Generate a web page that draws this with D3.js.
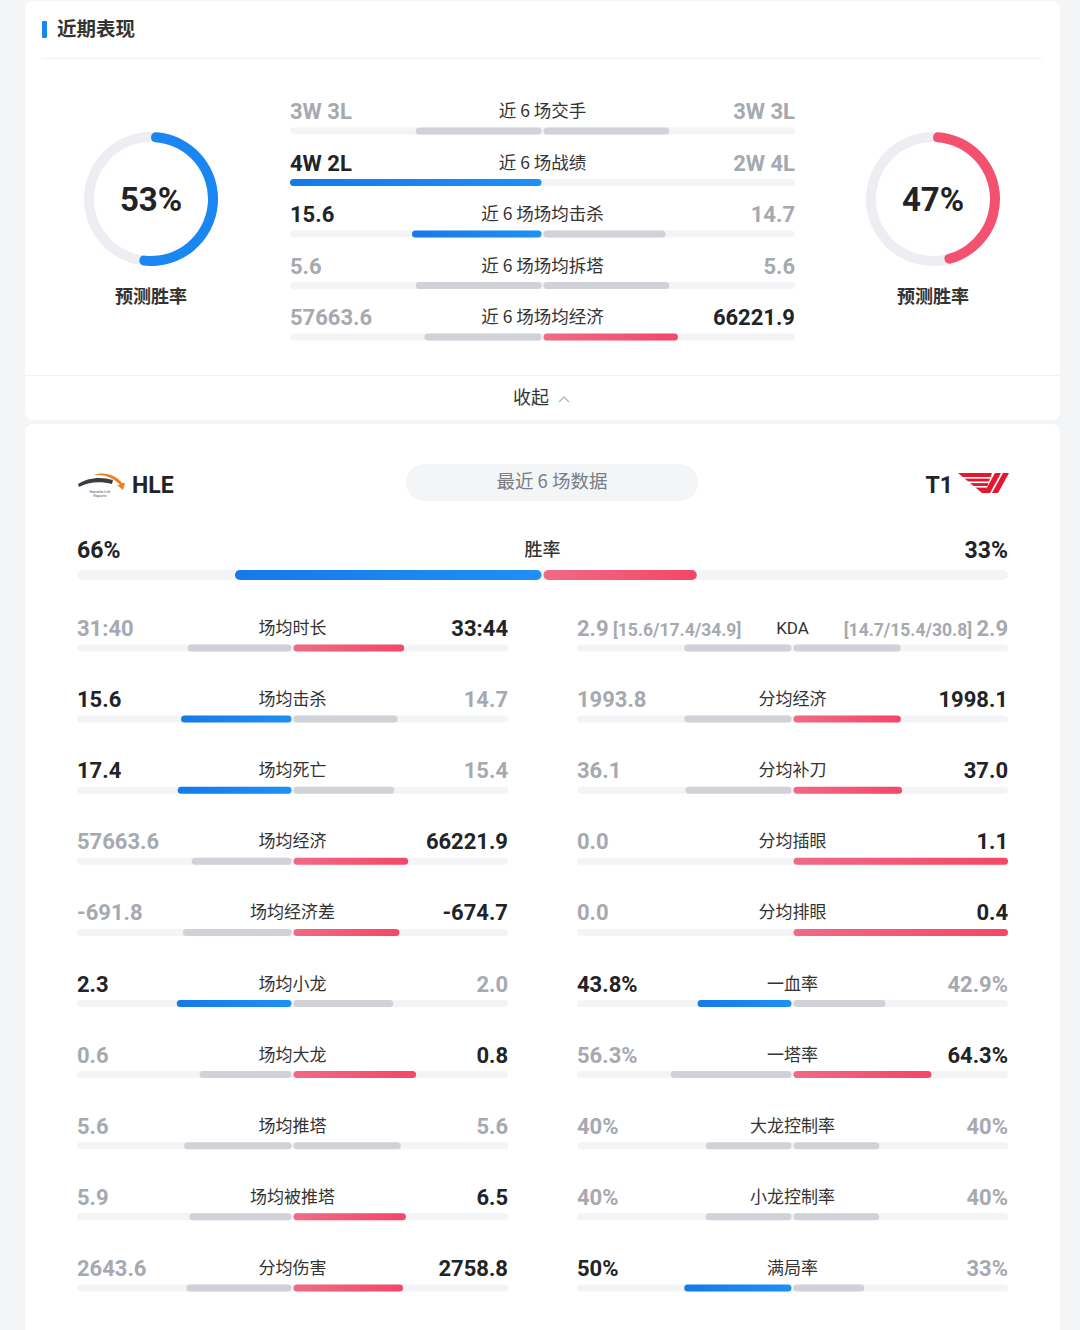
<!DOCTYPE html>
<html>

<head>
    <meta charset='utf-8'>
</head>
<style>
    body {
        margin: 0;
        background: #f4f5f7;
    }

    svg {
        display: block;
    }

    .num {
        font-family: Roboto, "Liberation Sans", sans-serif;
        font-weight: 700;
    }

    .cjk {
        font-family: "Noto Sans CJK SC", "Noto Sans", sans-serif;
    }
</style>

<body>
    <div id='chart'></div>
    <script src="https://cdn.jsdelivr.net/npm/d3@7/dist/d3.min.js"></script>
    <script>
        // predicted win rate
        var teams = ["HLE", "T1"];
        var predicted = [53, 47];

        // recent form (top block)
        var recentLabels = ["近 6 场交手", "近 6 场战绩", "近 6 场场均击杀", "近 6 场场均拆塔", "近 6 场场均经济"];
        var recentLeft = ["3W 3L", "4W 2L", "15.6", "5.6", "57663.6"];
        var recentRight = ["3W 3L", "2W 4L", "14.7", "5.6", "66221.9"];
        // bar amounts as drawn on the site (战绩 is drawn full / empty)
        var recentBarLeft = [3, 4, 15.6, 5.6, 57663.6];
        var recentBarRight = [3, 0, 14.7, 5.6, 66221.9];

        // last 6 games
        var winRate = [66, 33];

        var leftColLabels = ["场均时长", "场均击杀", "场均死亡", "场均经济", "场均经济差", "场均小龙", "场均大龙", "场均推塔", "场均被推塔", "分均伤害"];
        var leftColA = ["31:40", "15.6", "17.4", "57663.6", "-691.8", "2.3", "0.6", "5.6", "5.9", "2643.6"];
        var leftColB = ["33:44", "14.7", "15.4", "66221.9", "-674.7", "2.0", "0.8", "5.6", "6.5", "2758.8"];

        var rightColLabels = ["KDA", "分均经济", "分均补刀", "分均插眼", "分均排眼", "一血率", "一塔率", "大龙控制率", "小龙控制率", "满局率"];
        var rightColA = ["2.9", "1993.8", "36.1", "0.0", "0.0", "43.8%", "56.3%", "40%", "40%", "50%"];
        var rightColB = ["2.9", "1998.1", "37.0", "1.1", "0.4", "42.9%", "64.3%", "40%", "40%", "33%"];
        var kdaDetail = ["[15.6/17.4/34.9]", "[14.7/15.4/30.8]"];

        var W = 1080, H = 1330;
        var BLUE = "#1a86f1", RED = "#f4506f", BARGRAY = "#d0d2d8", TRACK = "#f3f4f6";
        var DARK = "#222326", MUTED = "#a6a9b0", LABEL = "#333";

        var svg = d3.select('#chart').append('svg')
            .attr('width', W).attr('height', H);

        var defs = svg.append('defs');
        var rg = defs.append('linearGradient').attr('id', 'redGrad');
        rg.append('stop').attr('offset', '0%').attr('stop-color', '#f06a85');
        rg.append('stop').attr('offset', '100%').attr('stop-color', '#f44669');
        var bg = defs.append('linearGradient').attr('id', 'blueGrad');
        bg.append('stop').attr('offset', '0%').attr('stop-color', '#1679ea');
        bg.append('stop').attr('offset', '100%').attr('stop-color', '#1f90f4');

        // cards
        svg.append('rect').attr('x', 25).attr('y', 1).attr('width', 1035).attr('height', 419)
            .attr('rx', 8).attr('fill', '#fff');
        svg.append('rect').attr('x', 25).attr('y', 424).attr('width', 1035).attr('height', 930)
            .attr('rx', 8).attr('fill', '#fff');

        // header
        svg.append('rect').attr('x', 42).attr('y', 21).attr('width', 5).attr('height', 17)
            .attr('rx', 1).attr('fill', BLUE);
        svg.append('text').attr('class', 'cjk').attr('x', 57).attr('y', 36)
            .attr('font-size', 19.5).attr('font-weight', 700).attr('fill', LABEL).text("近期表现");
        svg.append('line').attr('x1', 42).attr('x2', 1042).attr('y1', 58.5).attr('y2', 58.5)
            .attr('stroke', '#f0f1f3');

        // donuts
        var arc = d3.arc().innerRadius(57).outerRadius(67).cornerRadius(5);
        var donutX = [151, 933];
        var donutColor = [BLUE, RED];
        var donut = svg.selectAll('g.donut').data(predicted).enter().append('g')
            .attr('class', 'donut')
            .attr('transform', function(d, i) { return "translate(" + donutX[i] + ",199)"; });
        donut.append('path').attr('fill', '#eceef2')
            .attr('d', d3.arc().innerRadius(57).outerRadius(67)({ startAngle: 0, endAngle: 2 * Math.PI }));
        donut.append('path').attr('fill', function(d, i) { return donutColor[i]; })
            .attr('d', function(d) { return arc({ startAngle: 0, endAngle: 2 * Math.PI * d / 100 }); });
        donut.append('text').attr('class', 'num').attr('text-anchor', 'middle').attr('y', 12)
            .attr('font-size', 33).attr('fill', DARK).text(function(d) { return d + "%"; });
        donut.append('text').attr('class', 'cjk').attr('text-anchor', 'middle').attr('y', 104)
            .attr('font-size', 18).attr('font-weight', 700).attr('fill', LABEL).text("预测胜率");

        function toNum(s) {
            if (s.indexOf(':') > 0) {
                var p = s.split(':');
                return +p[0] * 60 + +p[1];
            }
            return parseFloat(s);
        }

        // one comparison row: texts + split bar
        function compareRow(g, o) {
            var lv = toNum(o.a), rv = toNum(o.b);
            var winL = o.both || lv > rv, winR = o.both || rv > lv;
            var scale = d3.scaleLinear().domain([0, 1]).range([0, o.half - 1]);
            var fl, fr;
            if (o.pct) {
                fl = o.barA / 100; fr = o.barB / 100;
            } else {
                var tot = Math.abs(o.barA) + Math.abs(o.barB);
                fl = tot ? Math.abs(o.barA) / tot : 0;
                fr = tot ? Math.abs(o.barB) / tot : 0;
            }
            var h = o.bh, by = o.barY - h / 2;
            g.append('rect').attr('x', o.cx - o.half).attr('y', by).attr('width', o.half * 2)
                .attr('height', h).attr('rx', h / 2).attr('fill', TRACK);
            if (fl > 0) g.append('rect').attr('x', o.cx - 1 - scale(fl)).attr('y', by)
                .attr('width', scale(fl)).attr('height', h).attr('rx', h / 2)
                .attr('fill', winL ? 'url(#blueGrad)' : BARGRAY);
            if (fr > 0) g.append('rect').attr('x', o.cx + 1).attr('y', by)
                .attr('width', scale(fr)).attr('height', h).attr('rx', h / 2)
                .attr('fill', winR ? 'url(#redGrad)' : BARGRAY);

            var ty = o.textY + 8;
            var ta = g.append('text').attr('class', 'num').attr('x', o.cx - o.half).attr('y', ty)
                .attr('font-size', o.fs).attr('fill', winL ? DARK : MUTED);
            ta.append('tspan').text(o.a);
            if (o.detailA) ta.append('tspan').attr('font-size', 17.5).text(" " + o.detailA);
            var tb = g.append('text').attr('class', 'num').attr('x', o.cx + o.half).attr('y', ty)
                .attr('text-anchor', 'end').attr('font-size', o.fs).attr('fill', winR ? DARK : MUTED);
            if (o.detailB) tb.append('tspan').attr('font-size', 17.5).text(o.detailB + " ");
            tb.append('tspan').text(o.b);
            var latin = /[A-Z]/.test(o.label);
            g.append('text').attr('class', latin ? null : 'cjk')
                .attr('font-family', latin ? 'Roboto, sans-serif' : null)
                .attr('x', o.cx).attr('y', o.textY + 6).attr('text-anchor', 'middle')
                .attr('font-size', o.lfs || 17).attr('font-weight', o.lw || 400)
                .attr('fill', LABEL).text(o.label);
        }

        var topG = svg.append('g');
        recentLabels.forEach(function(lab, i) {
            var ty = 111 + i * 51.5;
            compareRow(topG, {
                cx: 542.5, half: 252.5, textY: ty, barY: ty + 20, bh: 7, fs: 22,
                a: recentLeft[i], b: recentRight[i], label: lab, lfs: 17.5,
                barA: recentBarLeft[i], barB: recentBarRight[i]
            });
        });

        // collapse strip
        svg.append('line').attr('x1', 25).attr('x2', 1060).attr('y1', 375.5).attr('y2', 375.5)
            .attr('stroke', '#f1f2f4');
        svg.append('text').attr('class', 'cjk').attr('x', 531).attr('y', 404).attr('text-anchor', 'middle')
            .attr('font-size', 18).attr('fill', LABEL).text("收起");
        svg.append('polyline').attr('points', '559,402 564,397 569,402').attr('fill', 'none')
            .attr('stroke', '#b3b6bc').attr('stroke-width', 1.4);

        // team header
        var hle = svg.append('g').attr('transform', 'translate(78,470)');
        hle.append('path').attr('d', 'M0,14 C9,8 22,6 35,10 L34,14 C22,11 10,12 1,17 Z').attr('fill', '#3d3d3f');
        hle.append('path').attr('d', 'M15,5 C26,1 38,5 44,13 L47,13 L45,20 L39,15 L42,15 C36,8 26,4 15,5 Z').attr('fill', '#f07d1e');
        hle.append('text').attr('x', 22).attr('y', 23).attr('text-anchor', 'middle')
            .attr('font-size', 3.8).attr('fill', '#555').attr('font-family', 'Roboto').text("Hanwha Life");
        hle.append('text').attr('x', 22).attr('y', 27).attr('text-anchor', 'middle')
            .attr('font-size', 3.8).attr('fill', '#555').attr('font-family', 'Roboto').text("Esports");
        svg.append('text').attr('class', 'num').attr('x', 132).attr('y', 493)
            .attr('font-size', 23).attr('fill', DARK).text(teams[0]);

        svg.append('text').attr('class', 'num').attr('x', 953).attr('y', 493).attr('text-anchor', 'end')
            .attr('font-size', 23).attr('fill', DARK).text(teams[1]);
        var t1 = svg.append('g').attr('transform', 'translate(958,473)').attr('fill', '#e4172f');
        t1.append('path').attr('d', 'M0,0 L34,0 L27,20 L24,20 Z');
        [4, 8.5, 13].forEach(function(yy) {
            t1.append('rect').attr('x', 0).attr('y', yy).attr('width', 34).attr('height', 1.6).attr('fill', '#fff');
        });
        t1.append('path').attr('d', 'M37,0 L43,0 L32,20 L26,20 Z');
        t1.append('path').attr('d', 'M45,0 L51,0 L40,20 L34,20 Z');

        svg.append('rect').attr('x', 406).attr('y', 464).attr('width', 292).attr('height', 37)
            .attr('rx', 18.5).attr('fill', '#f4f5f7');
        svg.append('text').attr('class', 'cjk').attr('x', 552).attr('y', 488).attr('text-anchor', 'middle')
            .attr('font-size', 18.5).attr('fill', '#7b7e85').text("最近 6 场数据");

        // win rate (both sides coloured)
        var bottomG = svg.append('g');
        compareRow(bottomG, {
            cx: 542.5, half: 465.5, textY: 550, barY: 575, bh: 10, fs: 23, pct: true, both: true,
            a: winRate[0] + "%", b: winRate[1] + "%", label: "胜率", lfs: 18, lw: 500,
            barA: winRate[0], barB: winRate[1]
        });

        // stat grid
        function gridCol(labels, A, B, cx) {
            labels.forEach(function(lab, i) {
                var ty = 628 + i * 71.1;
                var isPct = /%$/.test(A[i]);
                compareRow(bottomG, {
                    cx: cx, half: 215.5, textY: ty, barY: ty + 20, bh: 7, fs: 22, pct: isPct,
                    a: A[i], b: B[i], label: lab,
                    barA: toNum(A[i]), barB: toNum(B[i]),
                    detailA: lab === "KDA" ? kdaDetail[0] : null,
                    detailB: lab === "KDA" ? kdaDetail[1] : null
                });
            });
        }
        gridCol(leftColLabels, leftColA, leftColB, 292.5);
        gridCol(rightColLabels, rightColA, rightColB, 792.5);
    </script>
</body>

</html>
